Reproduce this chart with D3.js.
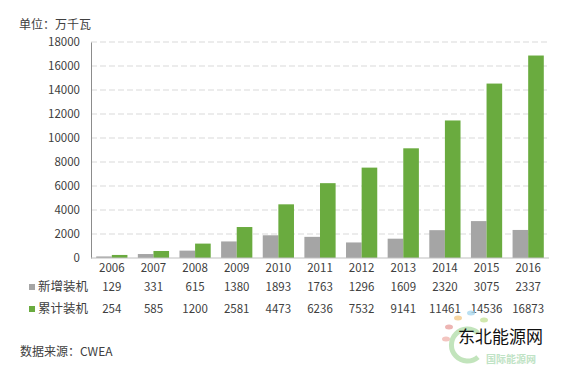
<!DOCTYPE html>
<html><head><meta charset="utf-8">
<script src="https://cdn.jsdelivr.net/npm/d3@7"></script>
<style>body{margin:0;background:#fff}svg{display:block}text{font-family:"Noto Sans CJK SC","Noto Sans",sans-serif;fill:#404040}</style>
</head><body>
<script>
const years = ["2006","2007","2008","2009","2010","2011","2012","2013","2014","2015","2016"];
const newInstalled = [129,331,615,1380,1893,1763,1296,1609,2320,3075,2337];
const cumulative = [254,585,1200,2581,4473,6236,7532,9141,11461,14536,16873];
const yTicks = [0,2000,4000,6000,8000,10000,12000,14000,16000,18000];
const seriesNames = ["新增装机","累计装机"];
const colors = ["#a5a5a5","#6aab3f"];

const W=568,H=366;
const svg=d3.select("body").append("svg").attr("width",W).attr("height",H);
const x=d3.scaleBand().domain(years).range([91,549]).paddingInner(0.25).paddingOuter(0.125);
const y=d3.scaleLinear().domain([0,18000]).range([258,42]);
const xs=d3.scaleBand().domain([0,1]).range([0,x.bandwidth()]);

// gridlines
svg.append("g").selectAll("line").data(yTicks.filter(d=>d>0)).join("line")
 .attr("x1",91).attr("x2",549).attr("y1",d=>y(d)).attr("y2",d=>y(d))
 .attr("stroke","#d9d9d9").attr("stroke-dasharray","6,3");

// y axis
const ya=svg.append("g").attr("transform","translate(91,0)").call(d3.axisLeft(y).tickValues(yTicks).tickFormat(d3.format("d")).tickSize(0).tickPadding(11));
ya.select(".domain").attr("stroke","#8c8c8c");
ya.selectAll("text").style("font-size","11.5px").attr("fill","#404040");

// bars
const series=[newInstalled,cumulative];
series.forEach((vals,i)=>{
  svg.append("g").selectAll("rect").data(years).join("rect")
   .attr("x",(d)=>x(d)+xs(i)).attr("width",xs.bandwidth())
   .attr("y",(d,j)=>y(vals[j])).attr("height",(d,j)=>y(0)-y(vals[j]))
   .attr("fill",colors[i]);
});
// baseline
svg.append("line").attr("x1",91).attr("x2",549).attr("y1",y(0)).attr("y2",y(0)).attr("stroke","#bfbfbf");

// table
const rowY=[268,287,309];
svg.append("g").selectAll("text").data(years).join("text")
 .attr("x",d=>x(d)+x.bandwidth()/2).attr("y",rowY[0]).attr("dy","0.35em").attr("text-anchor","middle")
 .style("font-size","11.5px").text(d=>d);
series.forEach((vals,i)=>{
  svg.append("g").selectAll("text").data(years).join("text")
   .attr("x",d=>x(d)+x.bandwidth()/2).attr("y",rowY[i+1]).attr("dy","0.35em").attr("text-anchor","middle")
   .style("font-size","11.5px").text((d,j)=>vals[j]);
  svg.append("rect").attr("x",29).attr("y",rowY[i+1]-3).attr("width",6).attr("height",6).attr("fill",colors[i]);
  svg.append("text").attr("x",38).attr("y",rowY[i+1]).attr("dy","0.35em").style("font-size","12.5px").text(seriesNames[i]);
});

svg.append("text").attr("x",19).attr("y",25).attr("dy","0.35em").style("font-size","12px").text("单位：万千瓦");
svg.append("text").attr("x",20).attr("y",352).attr("dy","0.35em").style("font-size","12px").text("数据来源：CWEA");

// watermark
const wm=svg.append("g");
const petals=[[449,327,"#e9a3a0"],[458,318,"#f3c98a"],[471,313,"#a9d8ef"],[484,320,"#c6e29a"],[446,339,"#f0b6b0"]];
wm.selectAll("ellipse").data(petals).join("ellipse").attr("cx",d=>d[0]).attr("cy",d=>d[1]).attr("rx",4).attr("ry",2.5).attr("fill",d=>d[2]).attr("opacity",0.8);
wm.append("path").attr("d","M478,333 A16,16 0 1,0 478,357").attr("fill","none").attr("stroke","#a8d9a0").attr("stroke-width",5).attr("opacity",0.7);
wm.append("text").attr("x",486).attr("y",359).attr("dy","0.35em").style("font-size","10px").style("font-weight","bold").style("fill","#bfe3c5").text("国际能源网");
wm.append("text").attr("x",458).attr("y",337).attr("dy","0.35em").style("font-size","17px").style("fill","#111").text("东北能源网");
</script>
</body></html>
